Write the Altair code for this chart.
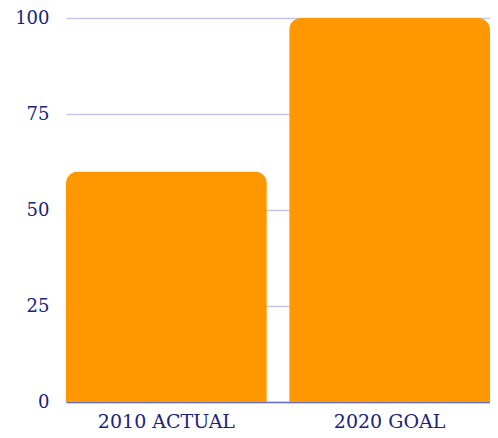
import altair as alt
import pandas as pd

categories = ["2010 ACTUAL", "2020 GOAL"]
values = [60, 100]

df = pd.DataFrame({"category": categories, "value": values})

text_color = "#1a237e"

chart = alt.Chart(df).mark_bar(
    color="#ff9800", cornerRadiusTopLeft=12, cornerRadiusTopRight=12
).encode(
    x=alt.X("category:N", sort=categories, title=None,
            scale=alt.Scale(paddingInner=0.1, paddingOuter=0),
            axis=alt.Axis(labelAngle=0, labelFont="DejaVu Serif", labelFontSize=19,
                          labelColor=text_color, domainColor="#6670bb", domainWidth=1.5,
                          ticks=False, labelPadding=10)),
    y=alt.Y("value:Q", title=None,
            scale=alt.Scale(domain=[0, 100]),
            axis=alt.Axis(values=[0, 25, 50, 75, 100], labelFont="DejaVu Serif",
                          labelFontSize=18, labelColor=text_color, domain=False,
                          ticks=False, labelPadding=17, gridColor="#c5c5e5",
                          gridWidth=1.5)),
).properties(
    width=424, height=384,
    autosize=alt.AutoSizeParams(type="none"),
    padding={"left": 58, "top": 10, "right": 0, "bottom": 28},
).configure_view(stroke=None)

chart.save("out.html", embed_options={"renderer": "svg", "actions": False})
